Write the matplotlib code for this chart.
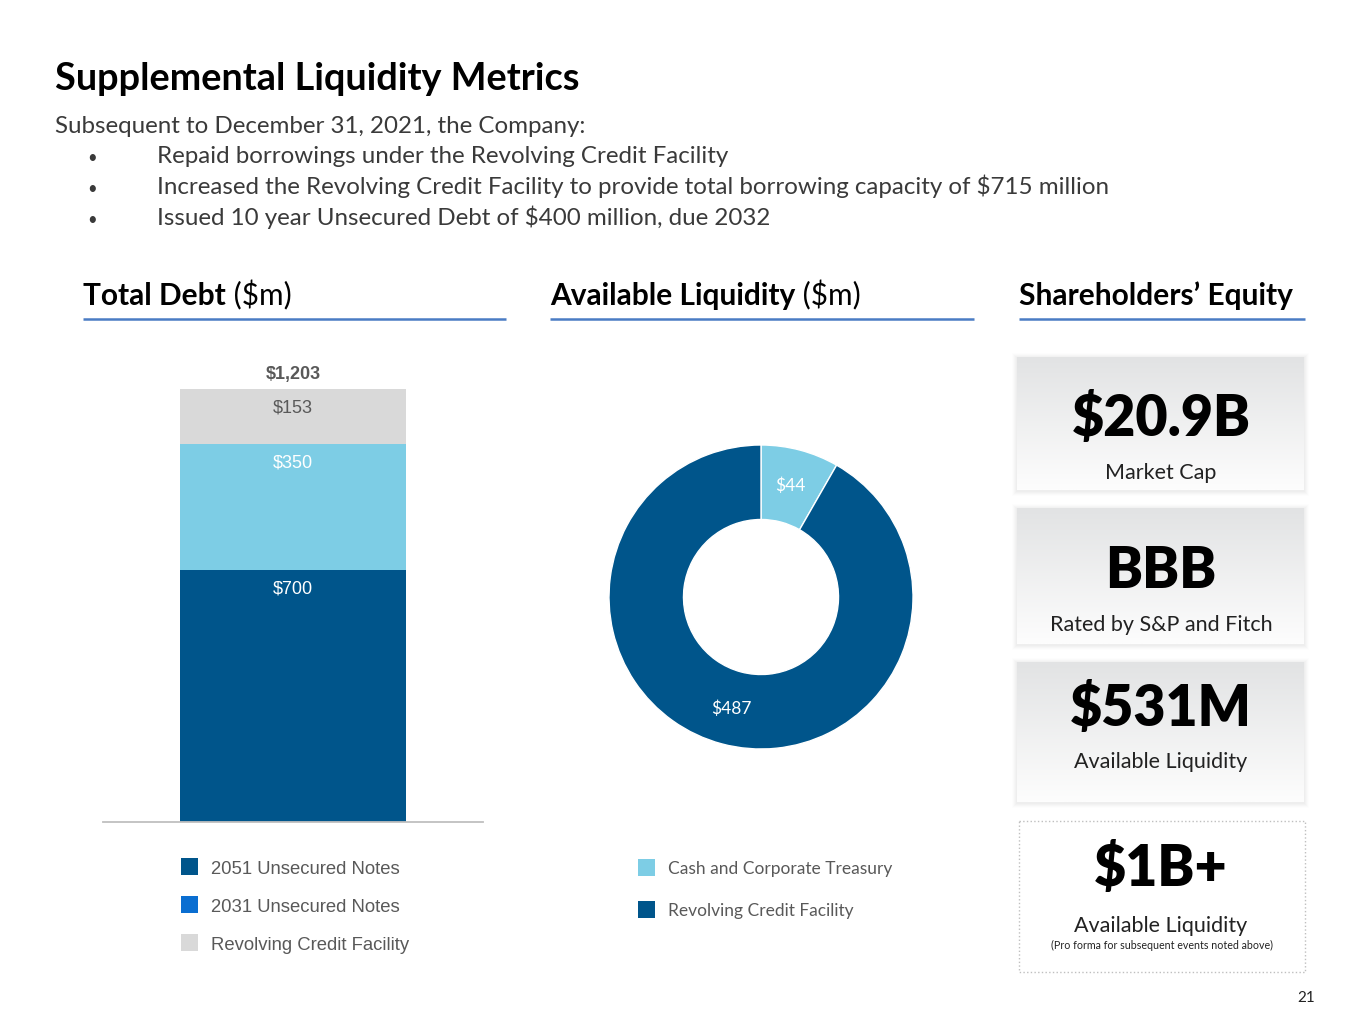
import numpy as np
import matplotlib.pyplot as plt
from matplotlib.patches import Rectangle
from matplotlib.colors import LinearSegmentedColormap

# data
debt_labels = ['2051 Unsecured Notes', '2031 Unsecured Notes', 'Revolving Credit Facility']
debt_values = [700, 350, 153]
liq_labels = ['Cash and Corporate Treasury', 'Revolving Credit Facility']
liq_values = [44, 487]
bullets = ['Repaid borrowings under the Revolving Credit Facility',
           'Increased the Revolving Credit Facility to provide total borrowing capacity of $715 million',
           'Issued 10 year Unsecured Debt of $400 million, due 2032']
cards = [('$20.9B', 'Market Cap'),
         ('BBB', 'Rated by S&P and Fitch'),
         ('$531M', 'Available Liquidity'),
         ('$1B+', 'Available Liquidity')]

DARK = '#00558B'
LIGHT = '#7DCDE5'
GRAY = '#D9D9D9'
BRIGHT = '#0A6ED1'
TXT = '#595959'
LINE = '#4A7CC4'
SANS = 'Lato'
ARIAL = 'Liberation Sans'

fig = plt.figure(figsize=(13.65, 10.24), dpi=100)
ax0 = fig.add_axes([0, 0, 1, 1])
ax0.axis('off')

# title block
ax0.text(55, 90, 'Supplemental Liquidity Metrics', fontsize=27.3, fontweight='bold',
         family=SANS, va='baseline', color='black')
ax0.text(55, 133, 'Subsequent to December 31, 2021, the Company:', fontsize=17.4,
         family=SANS, va='baseline', color='#3a3a3a')
for i, b in enumerate(bullets):
    yb = 163 + i * 31
    ax0.text(92, yb, '\u2022', fontsize=12, family=SANS, va='baseline', ha='center', color='#3a3a3a')
    ax0.text(157, yb, b, fontsize=17.4, family=SANS, va='baseline', color='#3a3a3a')

# section headers
def header(x, y, bold, rest, x1):
    t = ax0.text(x, y, bold, fontsize=21.5, fontweight='bold', family=SANS, va='baseline')
    if rest:
        ax0.annotate(rest, xy=(1, 0), xycoords=t, fontsize=21.5, family=SANS, va='bottom')
    ax0.plot([x, x1], [319, 319], color=LINE, lw=1.8, solid_capstyle='butt')

header(83, 305, 'Total Debt', ' ($m)', 506)
header(550, 305, 'Available Liquidity', ' ($m)', 974)
header(1019, 305, 'Shareholders\u2019 Equity', None, 1305)

# cards
grad = LinearSegmentedColormap.from_list('g', ['#E2E3E4', '#FDFDFD'])
boxes = [(357, 490), (508, 644), (662, 802)]
for (y0, y1) in boxes:
    for k, a in [(5, 0.02), (4, 0.025), (3, 0.03), (2, 0.035), (1, 0.04)]:
        ax0.add_patch(Rectangle((1017 - k, y0 - k + 1), 287 + 2 * k, y1 - y0 + 2 * k,
                                facecolor='#999999', edgecolor='none', alpha=a))
    ax0.imshow(np.linspace(0, 1, 100).reshape(-1, 1), cmap=grad, aspect='auto',
               extent=[1017, 1304, y1, y0], zorder=2)
ax0.add_patch(Rectangle((1019, 821), 286, 151, facecolor='white', edgecolor='#BFBFBF',
                        lw=1, linestyle=':', zorder=2))

big_y = [436, 588, 726, 886]
small_y = [479, 631, 768, 932]
for (big, small), by, sy in zip(cards, big_y, small_y):
    ax0.text(1161, by, big, fontsize=40, fontweight='heavy', family=SANS, ha='center',
             va='baseline', zorder=3)
    ax0.text(1161, sy, small, fontsize=15.5, family=SANS, ha='center', va='baseline',
             color='#222222', zorder=3)
ax0.text(1162, 949, '(Pro forma for subsequent events noted above)', fontsize=7.7, family=SANS,
         ha='center', va='baseline', color='#222222', zorder=3)
ax0.text(1306, 1002, '21', fontsize=11, family=SANS, ha='center', va='baseline', color='#222222')

# legends
for i, (lab, c) in enumerate(zip(debt_labels, [DARK, BRIGHT, GRAY])):
    yc = 866 + i * 38
    ax0.add_patch(Rectangle((181, yc - 8.5), 17, 17, facecolor=c, edgecolor='none'))
    ax0.text(211, yc + 3, lab, fontsize=13.3, family=ARIAL, va='center', color=TXT)
for i, (lab, c) in enumerate(zip(liq_labels, [LIGHT, DARK])):
    yc = 867 + i * 42
    ax0.add_patch(Rectangle((638, yc - 8.5), 17, 17, facecolor=c, edgecolor='none'))
    ax0.text(668, yc + 2, lab, fontsize=12.5, family=SANS, va='center', color=TXT)

ax0.set_xlim(0, 1365)
ax0.set_ylim(1024, 0)

# stacked bar
ymax = 1300
ax1 = fig.add_axes([103 / 1365, (1024 - 822) / 1024, 380 / 1365, ymax * 0.36 / 1024])
bottom = 0
seg_colors = [DARK, LIGHT, GRAY]
lab_colors = ['white', 'white', TXT]
for v, c, lc in zip(debt_values, seg_colors, lab_colors):
    ax1.bar(0.5, v, width=0.595, bottom=bottom, color=c, edgecolor='none')
    bottom += v
    ax1.annotate(f'${v:,}', xy=(0.5, bottom), xytext=(0, -19), textcoords='offset pixels',
                 ha='center', va='center', fontsize=13, family=ARIAL, color=lc)
ax1.annotate(f'${sum(debt_values):,}', xy=(0.5, bottom), xytext=(0, 14), textcoords='offset pixels',
             ha='center', va='center', fontsize=13, fontweight='bold', family=ARIAL, color=TXT)
ax1.set_xlim(0, 1)
ax1.set_ylim(0, ymax)
for s in ['top', 'left', 'right']:
    ax1.spines[s].set_visible(False)
ax1.spines['bottom'].set_color('#BFBFBF')
ax1.spines['bottom'].set_linewidth(1.3)
ax1.set_xticks([])
ax1.set_yticks([])
ax1.patch.set_alpha(0)

# donut
R = 152
side = 340
ax2 = fig.add_axes([(761 - side / 2) / 1365, (1024 - 597 - side / 2) / 1024, side / 1365, side / 1024])
total = sum(liq_values)
wedges, _, autot = ax2.pie(liq_values, colors=[LIGHT, DARK], startangle=90, counterclock=False,
                           wedgeprops=dict(width=0.49, edgecolor='white', linewidth=1),
                           autopct=lambda p: f'${p * total / 100:.0f}', pctdistance=0.76)
for t in autot:
    t.set_color('white')
    t.set_fontsize(12.5)
    t.set_family(SANS)
lim = side / 2 / R
ax2.set_xlim(-lim, lim)
ax2.set_ylim(-lim, lim)

fig.savefig('out.png', dpi=100)
